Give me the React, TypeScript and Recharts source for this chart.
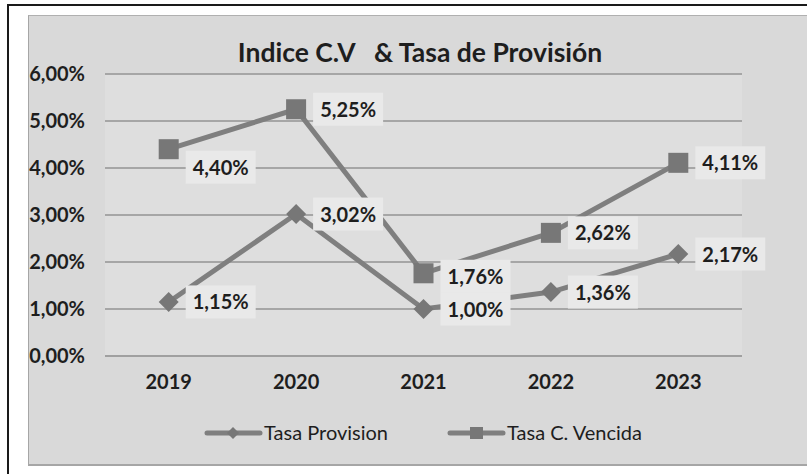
import React from 'react';
import { LineChart, Line, XAxis, YAxis, CartesianGrid, Legend, LabelList, Customized } from 'recharts';

const years = ['2019', '2020', '2021', '2022', '2023'];
const tasaProvision = [1.15, 3.02, 1.0, 1.36, 2.17];
const tasaVencida = [4.4, 5.25, 1.76, 2.62, 4.11];
const yTicks = [0, 1, 2, 3, 4, 5, 6];
const seriesNames = ['Tasa Provision', 'Tasa C. Vencida'];
const chartTitle = 'Indice C.V   & Tasa de Provisión';

const data = years.map((y, i) => ({ year: y, provision: tasaProvision[i], vencida: tasaVencida[i] }));

const FONT = 'Lato, "Open Sans", sans-serif';
const TEXT = '#1e1e1e';
const LINE = '#7f7f7f';
const MARK = '#777777';
const W = 807;
const H = 474;

const fmt = (v: number) => v.toFixed(2).replace('.', ',') + '%';

const provShift = [0, 0, 0, 0, 0];
const vencShift = [18, 0, 3, 0, 0];

const makeLabel = (shifts: number[]) => (props: any) => {
  const { x, y, value, index } = props;
  const bx = x + 17;
  const by = y - 16.5 + (shifts[index] || 0);
  return (
    <g key={`lb-${index}`}>
      <rect x={bx} y={by} width={70} height={33} fill="#e9e9e9" />
      <text x={bx + 35} y={by + 17} dy="0.35em" textAnchor="middle" fontFamily={FONT} fontWeight={700} fontSize={20} fill={TEXT}>
        {fmt(value)}
      </text>
    </g>
  );
};

const squareDot = (p: any) => (
  <rect key={`sq-${p.index}`} x={p.cx - 10} y={p.cy - 10} width={20} height={20} fill={MARK} />
);
const diamondDot = (p: any) => (
  <polygon
    key={`dm-${p.index}`}
    points={`${p.cx},${p.cy - 10} ${p.cx + 10},${p.cy} ${p.cx},${p.cy + 10} ${p.cx - 10},${p.cy}`}
    fill={MARK}
  />
);

const LegendContent = () => {
  const items = [
    { name: seriesNames[0], x: 205, shape: 'diamond' },
    { name: seriesNames[1], x: 448, shape: 'square' },
  ];
  return (
    <svg width={W} height={30} style={{ display: 'block' }}>
      {items.map((it) => (
        <g key={it.name}>
          <line x1={it.x + 2} y1={15} x2={it.x + 55} y2={15} stroke={LINE} strokeWidth={5} strokeLinecap="round" />
          {it.shape === 'diamond' ? (
            <polygon points={`${it.x + 28},${9} ${it.x + 34},${15} ${it.x + 28},${21} ${it.x + 22},${15}`} fill={MARK} />
          ) : (
            <rect x={it.x + 22} y={9} width={13} height={12} fill={MARK} />
          )}
          <text x={it.x + 59} y={15} dy="0.35em" fontFamily={FONT} fontSize={20} fill={TEXT}>
            {it.name}
          </text>
        </g>
      ))}
    </svg>
  );
};

const Title = () => (
  <text x={420} y={62} textAnchor="middle" fontFamily={FONT} fontWeight={700} fontSize={26.5} fill={TEXT} style={{ whiteSpace: 'pre' }}>
    {chartTitle}
  </text>
);

export default function App() {
  return (
    <div style={{ position: 'absolute', left: 0, top: 0, width: W, height: H, background: '#ffffff', overflow: 'hidden' }}>
      <div style={{ position: 'absolute', left: 7, top: 4, width: W - 7, height: 2, background: '#1a1a1a' }} />
      <div style={{ position: 'absolute', left: 7, top: 4, width: 2, height: H - 4, background: '#1a1a1a' }} />
      <div
        style={{
          position: 'absolute',
          left: 28,
          top: 15,
          width: W - 28,
          height: 451,
          background: '#d9d9d9',
          borderTop: '1px solid #b0b0b0',
          borderLeft: '1px solid #a6a6a6',
          borderBottom: '2px solid #a6a6a6',
          boxSizing: 'border-box',
        }}
      />
      <LineChart
        width={W}
        height={H}
        data={data}
        margin={{ top: 74, right: 65, bottom: 88, left: 0 }}
        style={{ position: 'absolute', left: 0, top: 0 }}
      >
        <CartesianGrid vertical={false} stroke="#a6a6a6" strokeWidth={2} fill="#dedede" />
        <XAxis
          dataKey="year"
          padding={{ left: 63.7, right: 63.7 }}
          tickLine={false}
          tickMargin={13}
          axisLine={{ stroke: '#a0a0a0', strokeWidth: 2 }}
          tick={{ fontFamily: FONT, fontWeight: 700, fontSize: 20, fill: TEXT }}
        />
        <YAxis
          width={105}
          domain={[0, 6]}
          ticks={yTicks}
          interval={0}
          tickFormatter={fmt}
          axisLine={false}
          tickLine={false}
          tickMargin={14}
          tick={{ fontFamily: FONT, fontWeight: 700, fontSize: 20, fill: TEXT }}
        />
        <Line
          type="linear"
          dataKey="vencida"
          name={seriesNames[1]}
          stroke={LINE}
          strokeWidth={5}
          dot={squareDot}
          activeDot={false}
          isAnimationActive={false}
        >
          <LabelList dataKey="vencida" content={makeLabel(vencShift)} />
        </Line>
        <Line
          type="linear"
          dataKey="provision"
          name={seriesNames[0]}
          stroke={LINE}
          strokeWidth={5}
          dot={diamondDot}
          activeDot={false}
          isAnimationActive={false}
        >
          <LabelList dataKey="provision" content={makeLabel(provShift)} />
        </Line>
        <Legend
          layout="vertical"
          align="center"
          verticalAlign="middle"
          content={<LegendContent />}
          wrapperStyle={{ position: 'absolute', left: 0, top: 418, width: W, height: 30 }}
        />
        <Customized component={<Title />} />
      </LineChart>
    </div>
  );
}
